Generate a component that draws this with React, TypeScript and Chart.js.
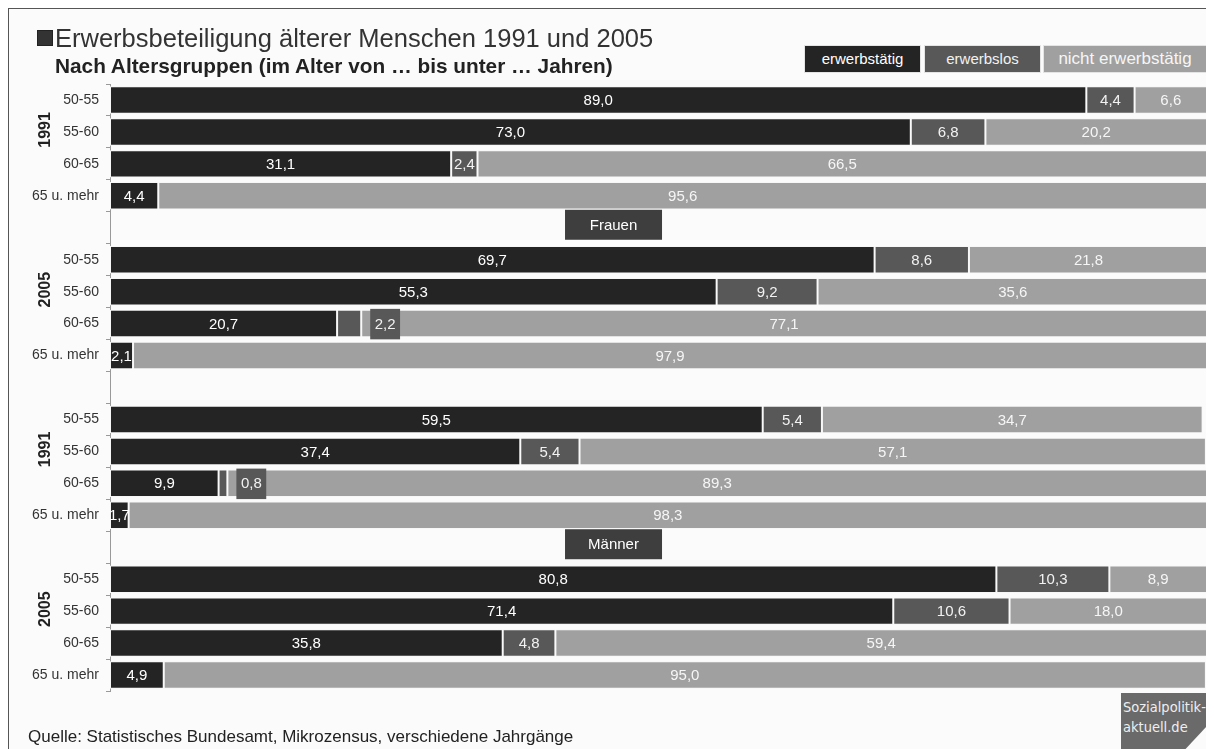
import React, { useEffect, useRef } from "react";
import { Chart, registerables } from "chart.js";

Chart.register(...registerables);

const categories = [
  "50-55", "55-60", "60-65", "65 u. mehr",
  "",
  "50-55", "55-60", "60-65", "65 u. mehr",
  "",
  "50-55", "55-60", "60-65", "65 u. mehr",
  "",
  "50-55", "55-60", "60-65", "65 u. mehr",
];
const seriesNames = ["erwerbstätig", "erwerbslos", "nicht erwerbstätig"];
const erwerbstaetig = [89.0, 73.0, 31.1, 4.4, null, 69.7, 55.3, 20.7, 2.1, null, 59.5, 37.4, 9.9, 1.7, null, 80.8, 71.4, 35.8, 4.9];
const erwerbslos = [4.4, 6.8, 2.4, 0, null, 8.6, 9.2, 2.2, 0, null, 5.4, 5.4, 0.8, 0, null, 10.3, 10.6, 4.8, 0];
const nichtErwerbstaetig = [6.6, 20.2, 66.5, 95.6, null, 21.8, 35.6, 77.1, 97.9, null, 34.7, 57.1, 89.3, 98.3, null, 8.9, 18.0, 59.4, 95.0];
const yearLabels = ["1991", "2005", "1991", "2005"];
const yearRows = [1, 6, 11, 16];
const sexLabels = ["Frauen", "Männer"];
const sexRows = [4, 14];

const colors = ["#242424", "#585858", "#a0a0a0"];
const textColors = ["#ffffff", "#f2f2f2", "#f6f6f6"];
const FONT = "'Liberation Sans', Arial, sans-serif";

const fmt = (v: number) => v.toFixed(1).replace(".", ",");

const labelPlugin = {
  id: "customLabels",
  afterDatasetsDraw(chart: any) {
    const ctx = chart.ctx;
    const xs = chart.scales.x;
    const ys = chart.scales.y;
    ctx.save();
    ctx.font = `15px ${FONT}`;
    ctx.textBaseline = "middle";
    ctx.textAlign = "center";
    chart.data.datasets.forEach((ds: any, di: number) => {
      const meta = chart.getDatasetMeta(di);
      meta.data.forEach((bar: any, i: number) => {
        const v = ds.data[i];
        if (v == null || v === 0) return;
        const { x, base, y, height } = bar.getProps(["x", "base", "y", "height"], true);
        const w = Math.abs(x - base);
        const txt = fmt(v);
        const tw = ctx.measureText(txt).width;
        if (di === 1 && w < tw + 5) {
          const bx = Math.max(x, base) + 9;
          const bw = tw + 9;
          ctx.fillStyle = colors[1];
          ctx.fillRect(bx, y - height / 2 - 1, bw, height + 3);
          ctx.fillStyle = textColors[1];
          ctx.fillText(txt, bx + bw / 2, y + 1);
        } else {
          ctx.fillStyle = textColors[di];
          ctx.fillText(txt, (x + base) / 2, y + 1);
        }
      });
    });
    // year labels
    ctx.font = `bold 16px ${FONT}`;
    ctx.fillStyle = "#222";
    yearLabels.forEach((lab, k) => {
      const yy = ys.getPixelForValue(yearRows[k]) - 2;
      ctx.save();
      ctx.translate(37, yy);
      ctx.rotate(-Math.PI / 2);
      ctx.fillText(lab, 0, 0);
      ctx.restore();
    });
    // sex labels
    ctx.font = `15px ${FONT}`;
    sexLabels.forEach((lab, k) => {
      const yy = ys.getPixelForValue(sexRows[k]) - 3;
      const cx = xs.getPixelForValue(45.9);
      ctx.fillStyle = "#3e3e3e";
      ctx.fillRect(cx - 48.5, yy - 15, 97, 30);
      ctx.fillStyle = "#ffffff";
      ctx.fillText(lab, cx, yy + 1);
    });
    ctx.restore();
  },
};

export default function App() {
  const ref = useRef<HTMLCanvasElement | null>(null);
  useEffect(() => {
    if (!ref.current) return;
    const dataArrays = [erwerbstaetig, erwerbslos, nichtErwerbstaetig];
    const chart = new Chart(ref.current, {
      type: "bar",
      data: {
        labels: categories,
        datasets: seriesNames.map((name, i) => ({
          label: name,
          data: dataArrays[i],
          backgroundColor: colors[i],
          borderColor: "#f7f7f7",
          borderWidth: 1,
          borderSkipped: false,
          barPercentage: 0.86,
          categoryPercentage: 1,
        })),
      },
      options: {
        indexAxis: "y",
        animation: false,
        responsive: false,
        maintainAspectRatio: false,
        layout: { padding: { top: 75, bottom: 58, right: 7, left: 0 } },
        plugins: { legend: { display: false }, title: { display: false }, tooltip: { enabled: false } },
        scales: {
          x: { stacked: true, min: 0, max: 100, display: false },
          y: {
            stacked: true,
            afterFit: (s: any) => { s.width = 101; },
            ticks: { autoSkip: false, font: { size: 14, family: FONT }, color: "#333", padding: 7 },
            grid: { drawOnChartArea: false, tickLength: 4, color: "#999", offset: true },
            border: { color: "#999" },
          },
        },
      } as any,
      plugins: [labelPlugin],
    });
    return () => chart.destroy();
  }, []);

  const legendBoxes = [
    { left: 795, width: 117, size: 15 },
    { left: 915, width: 117, size: 15 },
    { left: 1034, width: 164, size: 17 },
  ];

  return (
    <div
      style={{
        position: "relative",
        width: 1206,
        height: 741,
        boxSizing: "border-box",
        borderTop: "1px solid #555",
        borderLeft: "1px solid #555",
        background: "#fbfbfb",
        overflow: "hidden",
        fontFamily: FONT,
      }}
    >
      <canvas ref={ref} width={1205} height={740} style={{ position: "absolute", left: 0, top: 0, width: 1205, height: 740 }} />
      <div style={{ position: "absolute", left: 28, top: 21, width: 16, height: 16, background: "#333", border: "1px solid #222", boxSizing: "border-box" }} />
      <div style={{ position: "absolute", left: 46, top: 14, fontSize: 25.5, color: "#333", whiteSpace: "nowrap", lineHeight: "30px" }}>
        Erwerbsbeteiligung älterer Menschen 1991 und 2005
      </div>
      <div style={{ position: "absolute", left: 46, top: 45, fontSize: 20.8, fontWeight: "bold", color: "#222", whiteSpace: "nowrap", lineHeight: "24px" }}>
        Nach Altersgruppen (im Alter von … bis unter … Jahren)
      </div>
      {seriesNames.map((n, i) => (
        <div
          key={n}
          style={{
            position: "absolute",
            left: legendBoxes[i].left,
            top: 36,
            width: legendBoxes[i].width,
            height: 28,
            background: colors[i],
            color: textColors[i],
            fontSize: legendBoxes[i].size,
            lineHeight: "26px",
            textAlign: "center",
            boxSizing: "border-box",
            border: "1px solid #e4e4e4",
            whiteSpace: "nowrap",
          }}
        >
          {n}
        </div>
      ))}
      <div style={{ position: "absolute", left: 19, top: 717, fontSize: 17, color: "#222", whiteSpace: "nowrap", lineHeight: "22px" }}>
        Quelle: Statistisches Bundesamt, Mikrozensus, verschiedene Jahrgänge
      </div>
      <div
        style={{
          position: "absolute",
          left: 1112,
          top: 684,
          width: 86,
          height: 57,
          background: "#6a6a6a",
          clipPath: "polygon(0 0, 100% 0, 100% 58%, 74% 100%, 0 100%)",
          color: "#eeeeee",
          fontFamily: "'DejaVu Sans Condensed', 'DejaVu Sans', sans-serif",
          fontSize: 14.5,
          lineHeight: "20px",
          padding: "4px 0 0 2px",
          boxSizing: "border-box",
          whiteSpace: "nowrap",
        }}
      >
        Sozialpolitik-
        <br />
        aktuell.de
      </div>
    </div>
  );
}
